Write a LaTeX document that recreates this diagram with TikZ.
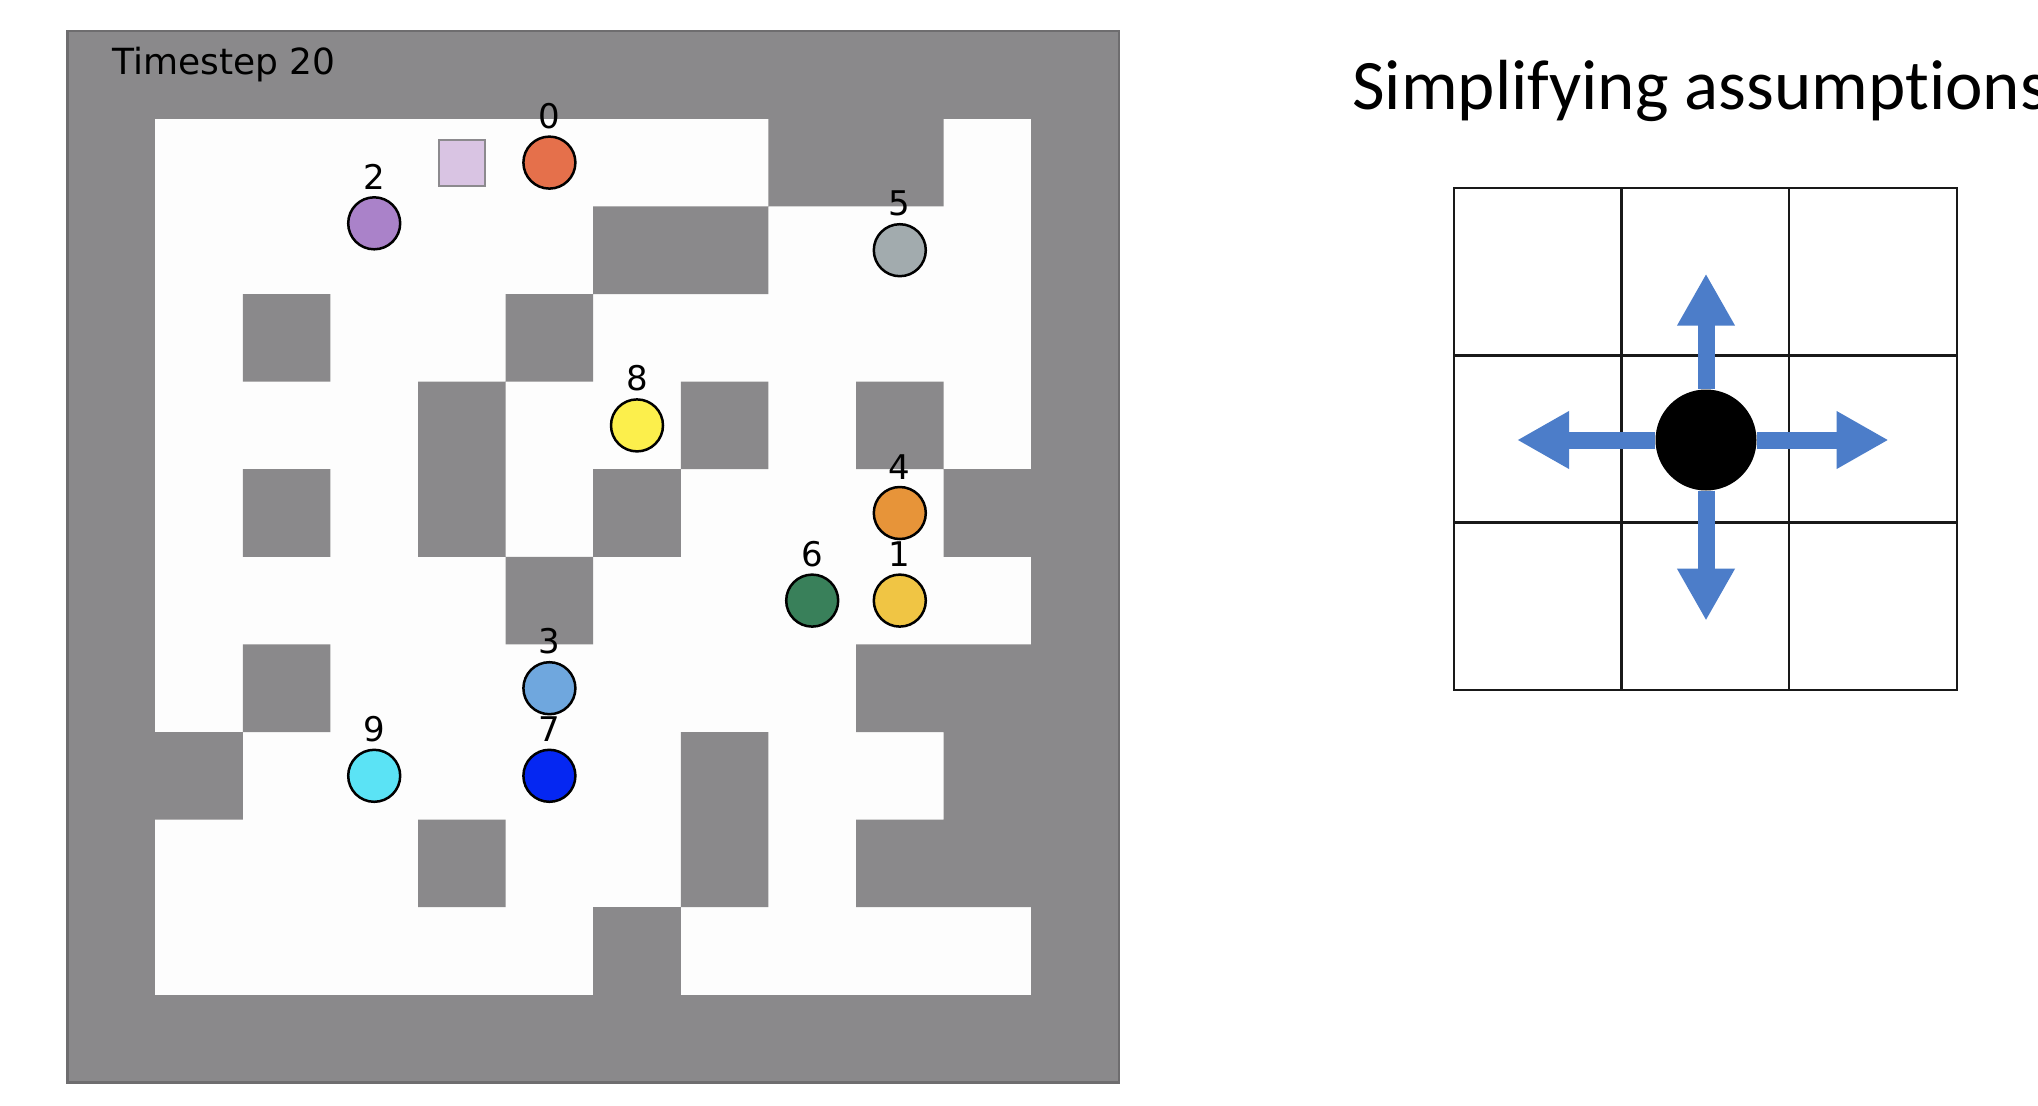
\documentclass[tikz,border=0pt]{standalone}
\usepackage{fontspec}
\setmainfont{DejaVu Sans}
\newfontfamily\slidefont[Ligatures=NoCommon]{Carlito}
\usetikzlibrary{positioning, arrows.meta}

\definecolor{wallgray}{HTML}{8A898B}
\definecolor{framegray}{HTML}{6E6D6F}
\definecolor{floorwhite}{HTML}{FDFDFD}
\definecolor{goalfill}{HTML}{D9C4E3}
\definecolor{goalborder}{HTML}{8C8A8E}
\definecolor{moveblue}{HTML}{4C7DC9}
\definecolor{agent0}{HTML}{E5704B}
\definecolor{agent1}{HTML}{F0C544}
\definecolor{agent2}{HTML}{AA82C9}
\definecolor{agent3}{HTML}{6FA7DE}
\definecolor{agent4}{HTML}{E79439}
\definecolor{agent5}{HTML}{A2ABAE}
\definecolor{agent6}{HTML}{39805A}
\definecolor{agent7}{HTML}{0527F2}
\definecolor{agent8}{HTML}{FCEF4C}
\definecolor{agent9}{HTML}{5BE3F5}

\begin{document}
\begin{tikzpicture}[x=1pt, y=-1pt,
        agent/.style={draw=black, line width=2.5pt, shape=circle, minimum size=52pt, inner sep=0pt, outer sep=0pt},
        agentnum/.style={font=\fontsize{34}{40}\selectfont, inner sep=0pt, outer sep=0pt},
        move/.style={draw=moveblue, line width=17pt, -{Triangle[length=52pt, width=54pt]}}]
        \fill[white] (0,0) rectangle (2038,1106);
        \useasboundingbox (0,0) rectangle (2038,1106);

        % Grid world
        \begin{scope}[shift={(67.6,31.2)}, x=87.6pt, y=-87.6pt]
            \fill[wallgray] (0,0) rectangle (12,12);
            \fill[floorwhite] (1,1) rectangle (11,11);
            \fill[wallgray] (8,1) rectangle (10,2) (6,2) rectangle (8,3)
                (2,3) rectangle (3,4) (5,3) rectangle (6,4)
                (4,4) rectangle (5,6) (7,4) rectangle (8,5) (9,4) rectangle (10,5)
                (2,5) rectangle (3,6) (6,5) rectangle (7,6) (10,5) rectangle (11,6)
                (5,6) rectangle (6,7)
                (2,7) rectangle (3,8) (9,7) rectangle (10,8) (10,7) rectangle (11,10)
                (1,8) rectangle (2,9) (7,8) rectangle (8,10)
                (4,9) rectangle (5,10) (9,9) rectangle (10,10)
                (6,10) rectangle (7,11);
            \draw[framegray, line width=2.5pt] (0,0) rectangle (12,12);

            % Goal and agents
            \node (goal) [draw=goalborder, fill=goalfill, line width=2pt, minimum size=46pt, inner sep=0pt] at (4.5,1.5) {};

            \node (a0) [agent, fill=agent0] at (5.5,1.5) {};
            \node [agentnum, above=8pt of a0] {0};
            \node (a1) [agent, fill=agent1] at (9.5,6.5) {};
            \node [agentnum, above=8pt of a1] {1};
            \node (a2) [agent, fill=agent2] at (3.5,2.193) {};
            \node [agentnum, above=8pt of a2] {2};
            \node (a3) [agent, fill=agent3] at (5.5,7.5) {};
            \node [agentnum, above=8pt of a3] {3};
            \node (a4) [agent, fill=agent4] at (9.5,5.5) {};
            \node [agentnum, above=8pt of a4] {4};
            \node (a5) [agent, fill=agent5] at (9.5,2.5) {};
            \node [agentnum, above=8pt of a5] {5};
            \node (a6) [agent, fill=agent6] at (8.5,6.5) {};
            \node [agentnum, above=8pt of a6] {6};
            \node (a7) [agent, fill=agent7] at (5.5,8.5) {};
            \node [agentnum, above=8pt of a7] {7};
            \node (a8) [agent, fill=agent8] at (6.5,4.5) {};
            \node [agentnum, above=8pt of a8] {8};
            \node (a9) [agent, fill=agent9] at (3.5,8.5) {};
            \node [agentnum, above=8pt of a9] {9};
        \end{scope}

        \node (timestep) [anchor=base west, inner sep=0pt, font=\fontsize{36}{40}\selectfont] at (112,74) {Timestep 20};

        % Simplifying assumptions
        \node (title) [anchor=base west, inner sep=0pt, font=\slidefont\fontsize{71}{80}\selectfont] at (1352,109.5) {Simplifying assumptions};

        \begin{scope}[shift={(1454,188)}, x=167.6pt, y=-167.3pt]
            \draw[line width=2.5pt, black!90] (0,0) rectangle (3,3)
                (1,0) -- (1,3) (2,0) -- (2,3) (0,1) -- (3,1) (0,2) -- (3,2);
        \end{scope}

        \node (robot) [shape=circle, fill=black, minimum size=101pt, inner sep=0pt] at (1706,440) {};
        \coordinate (tipup) at (1706,273.6);
        \coordinate (tipdown) at (1706,620.7);
        \coordinate (tipleft) at (1517,440);
        \coordinate (tipright) at (1888.6,440);

        % Moves
        \draw[move] (robot) -- (tipup);
        \draw[move] (robot) -- (tipdown);
        \draw[move] (robot) -- (tipleft);
        \draw[move] (robot) -- (tipright);
    \end{tikzpicture}
\end{document}
